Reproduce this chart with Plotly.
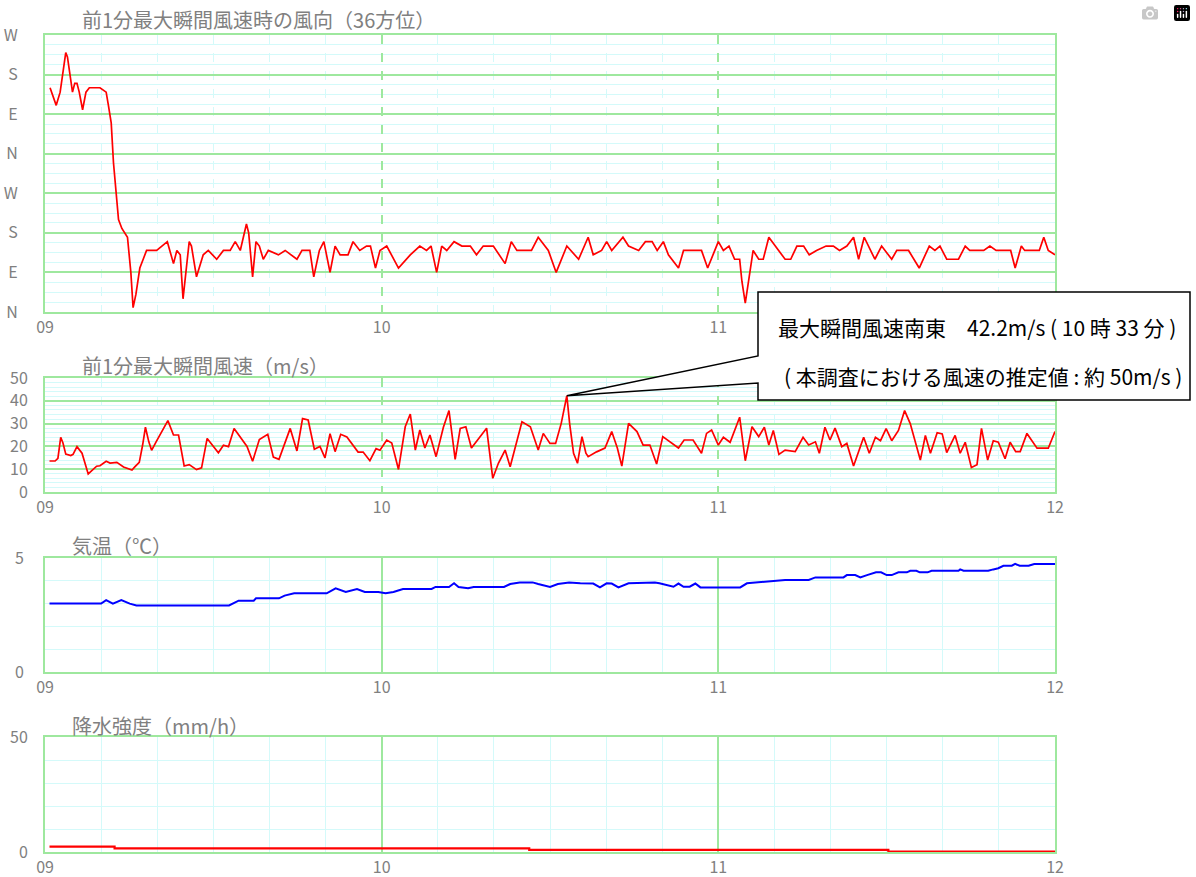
import plotly.graph_objects as go

W, H = 1196, 877

# ---------------- data (minutes after 09:00) ----------------
dir_min = [0.9, 2.0, 2.7, 3.3, 3.7, 4.0, 4.3, 4.9, 5.3, 5.7, 6.1, 6.7, 7.3, 7.9, 9.8, 10.9, 11.3, 11.8,
           12.2, 12.7, 13.1, 13.7, 14.7, 15.3, 15.7, 16.2, 16.9, 17.5, 18.1, 19.9, 21.8, 22.9, 23.5,
           24.1, 24.6, 25.7, 26.1, 27.0, 28.2, 29.1, 30.6, 31.8, 33.0, 33.9, 34.8, 35.9, 36.3, 37.0,
           37.6, 38.2, 38.9, 39.8, 41.6, 42.8, 44.9, 45.8, 47.2, 47.9, 48.9, 49.7, 50.8, 51.7, 52.6,
           54.0, 54.9, 56.1, 57.3, 58.0, 58.9, 59.7, 60.9, 63.0, 65.1, 66.8, 68.0, 68.8, 69.8, 70.7,
           71.6, 72.9, 74.3, 75.8, 76.9, 78.1, 79.9, 82.0, 83.1, 84.1, 86.7, 87.9, 89.7, 91.1, 93.0,
           95.1, 96.8, 97.7, 99.2, 100.1, 101.0, 103.0, 104.0, 105.8, 107.0, 108.2, 109.1, 110.2,
           111.1, 112.9, 113.8, 115.3, 117.0, 118.1, 120.0, 120.9, 121.9, 122.9, 123.8, 124.2, 124.8,
           125.5, 126.2, 127.2, 128.0, 129.0, 130.1, 131.9, 132.9, 134.0, 135.2, 136.2, 137.5, 139.2,
           140.5, 141.6, 142.9, 144.1, 145.0, 146.0, 147.9, 149.1, 150.9, 151.8, 153.9, 155.8, 157.6,
           158.6, 159.5, 160.7, 162.8, 164.0, 164.8, 165.8, 167.3, 168.4, 169.5, 172.1, 172.9, 174.0,
           174.6, 176.2, 177.2, 178.0, 178.8, 180.0]
dir_deg = [510, 470, 500, 550, 590, 580, 550, 500, 520, 520, 500, 460, 500, 510, 510, 500, 470, 430,
           340, 260, 210, 190, 170, 90, 10, 40, 100, 120, 140, 140, 160, 110, 140,
           130, 30, 160, 150, 80, 130, 140, 120, 140, 140, 160, 140, 200, 180, 80,
           160, 150, 120, 140, 130, 140, 120, 140, 140, 80, 140, 160, 90, 150, 130,
           130, 160, 140, 150, 150, 100, 140, 150, 100, 130, 150, 140, 150, 90, 150,
           140, 160, 150, 150, 130, 150, 150, 110, 160, 140, 140, 170, 140, 90, 150,
           120, 170, 130, 140, 160, 140, 170, 150, 140, 160, 160, 140, 160,
           130, 100, 140, 140, 140, 100, 160, 140, 150, 120, 120, 70, 20,
           80, 140, 120, 120, 170, 150, 120, 120, 150, 150, 130, 140, 150,
           150, 140, 150, 170, 120, 170, 120, 150, 120, 140, 140, 100, 150,
           140, 150, 120, 120, 150, 140, 140, 140, 150, 140, 140, 100, 150,
           140, 140, 140, 170, 140, 130]

spd_min = [0.8, 1.8, 2.3, 2.8, 3.2, 3.7, 4.6, 5.0, 5.7, 6.6, 7.7, 9.2, 9.8, 10.9, 11.6, 12.8, 14.0,
           15.5, 16.0, 16.8, 17.4, 17.9, 18.5, 19.0, 19.8, 21.9, 22.9, 23.8, 24.8, 25.7, 27.0, 27.9,
           28.9, 30.0, 30.9, 31.8, 32.7, 33.7, 36.0, 37.0, 38.2, 39.7, 40.7, 41.7, 43.7, 44.9, 45.9,
           46.9, 48.0, 49.0, 49.9, 50.8, 51.7, 52.7, 53.8, 55.8, 56.7, 57.9, 59.0, 59.7, 60.9, 61.8,
           63.0, 64.2, 65.1, 66.0, 66.8, 67.7, 68.6, 69.7, 71.0, 72.0, 73.1, 74.0, 75.0, 76.0, 78.7,
           79.8, 80.8, 82.0, 82.9, 85.0, 86.5, 87.9, 88.8, 90.0, 91.0, 92.0, 93.0, 93.5, 94.2, 94.9,
           95.7, 96.4, 96.8, 98.3, 99.8, 101.0, 102.0, 102.8, 104.0, 105.5, 106.6, 107.8, 109.0,
           110.1, 112.9, 113.9, 115.5, 117.0, 117.9, 118.8, 120.0, 120.9, 122.1, 123.8, 124.8, 126.0,
           127.2, 128.2, 129.0, 129.8, 130.8, 131.9, 133.7, 135.1, 136.1, 137.3, 138.0, 139.0, 139.9,
           140.8, 142.0, 142.9, 144.1, 145.9, 146.9, 148.0, 148.9, 149.9, 150.9, 152.1, 153.2, 154.2,
           156.0, 156.9, 157.8, 159.0, 159.9, 160.7, 162.2, 163.1, 164.0, 165.1, 166.1, 166.9, 168.0,
           169.0, 169.9, 171.1, 172.0, 173.0, 173.8, 175.0, 176.8, 178.8, 180.0]
spd_val = [13.6, 13.6, 14.8, 24.0, 21.5, 16.6, 16.0, 16.5, 19.9, 17.0, 7.9, 11.3, 11.5, 13.5, 12.7, 13.0, 11.0,
           9.6, 11.0, 13.0, 20.6, 28.4, 22.0, 18.3, 22.0, 31.3, 25.0, 25.0, 11.4, 12.0, 9.8, 10.6,
           23.5, 20.0, 17.2, 20.5, 19.9, 27.9, 20.0, 13.5, 23.0, 25.3, 15.3, 14.3, 27.9, 18.0, 32.2,
           31.6, 18.8, 20.0, 15.0, 25.6, 17.7, 25.3, 24.1, 17.5, 17.5, 13.7, 19.0, 18.3, 22.8, 21.5,
           9.9, 28.6, 34.2, 18.4, 27.2, 19.3, 25.0, 15.5, 28.4, 35.7, 14.3, 27.9, 28.6, 19.3, 28.0,
           6.0, 12.6, 18.4, 11.1, 30.8, 28.6, 18.4, 25.7, 21.3, 21.3, 30.1, 42.2, 30.0, 17.0, 12.6,
           24.3, 17.0, 15.5, 17.6, 19.3, 26.5, 19.3, 11.4, 30.1, 26.5, 20.6, 20.6, 12.3,
           24.3, 19.3, 22.8, 22.8, 17.0, 25.7, 27.2, 20.6, 24.0, 21.8, 32.8, 13.7, 28.6,
           24.3, 28.4, 20.6, 27.0, 16.5, 18.4, 17.7, 24.0, 20.6, 22.0, 17.0, 28.4, 22.8,
           28.0, 19.9, 21.3, 11.4, 24.0, 17.0, 24.0, 22.5, 27.8, 22.5, 27.0, 35.7, 30.0,
           14.0, 24.8, 17.0, 26.0, 25.5, 17.3, 24.8, 17.0, 21.8, 10.7, 12.0, 27.9, 14.0,
           22.5, 21.8, 14.6, 21.8, 17.7, 17.7, 25.7, 19.2, 19.2, 26.5]

tmp_min = [0.8, 10.0, 10.9, 12.1, 13.6, 15.1, 16.3, 32.8, 34.5, 37.2, 37.6, 41.7, 42.7, 44.4, 50.2,
           51.8, 53.6, 55.6, 57.0, 59.4, 60.7, 62.1, 63.8, 68.9, 69.6, 72.0, 72.9, 73.7, 75.4, 76.4,
           81.8, 82.9, 84.6, 86.9, 87.9, 90.0, 91.4, 93.4, 95.4, 97.7, 98.9,
           100.1, 101.0, 102.2, 104.0, 108.7, 109.5, 112.0, 112.9, 113.8, 114.9, 115.9, 116.8, 123.9,
           125.1, 127.8, 131.3, 131.9, 136.1, 137.3, 142.3, 142.9, 144.4, 145.3, 146.5, 148.1, 149.0,
           150.0, 150.9, 152.1, 153.6, 154.2, 155.3, 155.9, 157.3, 158.0, 162.8, 163.1, 163.7, 168.1,
           169.0, 169.9, 170.8, 172.3, 172.9, 173.7, 175.3, 176.3, 180.0]
tmp_val = [3.0, 3.0, 3.15, 3.0, 3.15, 3.0, 2.92, 2.92, 3.13, 3.13, 3.23, 3.23, 3.35, 3.45, 3.45,
           3.67, 3.51, 3.64, 3.51, 3.51, 3.45, 3.51, 3.64, 3.64, 3.73, 3.73, 3.89, 3.73, 3.67, 3.73,
           3.73, 3.86, 3.93, 3.93, 3.86, 3.73, 3.86, 3.93, 3.89, 3.88, 3.71,
           3.89, 3.88, 3.71, 3.89, 3.92, 3.89, 3.74, 3.88, 3.74, 3.74, 3.88, 3.71, 3.71,
           3.89, 3.95, 4.0, 4.04, 4.04, 4.15, 4.15, 4.25, 4.25, 4.15, 4.25, 4.37, 4.37,
           4.25, 4.25, 4.37, 4.37, 4.44, 4.44, 4.37, 4.37, 4.44, 4.44, 4.5, 4.44, 4.44,
           4.5, 4.55, 4.66, 4.66, 4.74, 4.66, 4.66, 4.74, 4.74]

rain_min = [0.8, 12.4, 86.3, 150.3, 180]
rain_val = [2.3, 1.6, 0.9, 0.2, 0.2]

hour_ticks = [0, 60, 120, 180]
hour_labels = ["09", "10", "11", "12"]
dir_ticks = [0, 90, 180, 270, 360, 450, 540, 630]
dir_labels = ["N", "E", "S", "W", "N", "E", "S", "W"]
spd_ticks = [0, 10, 20, 30, 40, 50]
tmp_ticks = [0, 5]
rain_ticks = [0, 50]

titles = ["前1分最大瞬間風速時の風向（36方位）", "前1分最大瞬間風速（m/s）", "気温（℃）", "降水強度（mm/h）"]
peak_min, peak_val = 93, 42.2
note1 = "最大瞬間風速南東　42.2m/s ( 10 時 33 分 )"
note2 = "( 本調査における風速の推定値 : 約 50m/s )"

# ---------------- styling ----------------
GREEN = "#9ee89e"
CYAN = "#d4fafa"
GRAY = "#808080"
FONT = "Noto Sans CJK JP"

X0, X1 = 45, 1055
panels = [(35, 312), (378, 492), (558, 672), (737, 852)]
title_pos = [(80, 20), (80, 365), (70, 545), (70, 725)]


def px(x):
    return x / W


def py(y):
    return 1 - y / H


fig = go.Figure()

fig.add_trace(go.Scatter(x=dir_min, y=dir_deg, mode="lines", line=dict(color="#ff0000", width=1.7),
                         xaxis="x", yaxis="y", showlegend=False))
fig.add_trace(go.Scatter(x=spd_min, y=spd_val, mode="lines", line=dict(color="#ff0000", width=1.7),
                         xaxis="x2", yaxis="y2", showlegend=False))
fig.add_trace(go.Scatter(x=tmp_min, y=tmp_val, mode="lines", line=dict(color="#0000ff", width=2),
                         xaxis="x3", yaxis="y3", showlegend=False))
fig.add_trace(go.Scatter(x=rain_min, y=rain_val, mode="lines", line=dict(color="#ff0000", width=2.2, shape="hv"),
                         xaxis="x4", yaxis="y4", showlegend=False))

ydefs = [
    dict(range=[0, 630], tickvals=dir_ticks, ticktext=dir_labels, minor_dtick=22.5, standoff=22),
    dict(range=[0, 50], tickvals=spd_ticks, ticktext=[str(v) for v in spd_ticks], minor_dtick=2, standoff=12),
    dict(range=[0, 5], tickvals=tmp_ticks, ticktext=[str(v) for v in tmp_ticks], minor_dtick=1, standoff=16),
    dict(range=[0, 50], tickvals=rain_ticks, ticktext=[str(v) for v in rain_ticks], minor_dtick=10, standoff=12),
]

layout = dict(width=W, height=H, margin=dict(l=0, r=0, t=0, b=0, autoexpand=False),
              paper_bgcolor="white", plot_bgcolor="white", showlegend=False)

for i, ((top, bot), yd) in enumerate(zip(panels, ydefs)):
    n = "" if i == 0 else str(i + 1)
    xlabels = list(hour_labels)
    if i == 0:
        xlabels[-1] = ""  # hidden behind the callout box in the original
    layout["xaxis" + n] = dict(
        domain=[px(X0), px(X1)], anchor="y" + n, range=[0, 180],
        tickmode="array", tickvals=hour_ticks, ticktext=xlabels,
        showgrid=True, gridcolor=GREEN, gridwidth=1.5, griddash="dash" if i < 2 else "solid",
        minor=dict(tickmode="linear", tick0=0, dtick=10, showgrid=True, gridcolor=CYAN, gridwidth=1),
        showline=True, mirror=True, linecolor=GREEN, linewidth=2, zeroline=False, automargin=False,
        ticks="", tickfont=dict(family=FONT, size=16, color=GRAY), fixedrange=True,
    )
    layout["yaxis" + n] = dict(
        domain=[py(bot), py(top)], anchor="x" + n, range=yd["range"],
        tickmode="array", tickvals=yd["tickvals"], ticktext=yd["ticktext"],
        showgrid=True, gridcolor=GREEN, gridwidth=1.5,
        minor=dict(tickmode="linear", tick0=0, dtick=yd["minor_dtick"], showgrid=True, gridcolor=CYAN, gridwidth=1),
        showline=True, mirror=True, linecolor=GREEN, linewidth=2, zeroline=False, automargin=False,
        ticks="", ticklabelstandoff=yd["standoff"],
        tickfont=dict(family=FONT, size=16, color=GRAY), fixedrange=True,
    )

annotations = []
for t, (tx, ty) in zip(titles, title_pos):
    annotations.append(dict(text=t, x=px(tx), y=py(ty), xref="paper", yref="paper",
                            xanchor="left", yanchor="middle", showarrow=False,
                            font=dict(family=FONT, size=20, color=GRAY)))

# callout box, tip placed on the peak through the panel-2 axis mapping
d2x = layout["xaxis2"]["domain"]
d2y = layout["yaxis2"]["domain"]
tip_x = d2x[0] + (peak_min - 0) / 180 * (d2x[1] - d2x[0])
tip_y = d2y[0] + (peak_val - 0) / 50 * (d2y[1] - d2y[0])
bx0, bx1, by0, by1 = px(758), px(1190), py(292), py(400)
n_top, n_bot = py(356), py(383)
path = (f"M {bx0},{by0} L {bx1},{by0} L {bx1},{by1} L {bx0},{by1} L {bx0},{n_bot} "
        f"L {tip_x},{tip_y} L {bx0},{n_top} Z")
layout["shapes"] = [dict(type="path", path=path, xref="paper", yref="paper",
                         fillcolor="white", line=dict(color="black", width=1.5), layer="above")]

annotations.append(dict(text=note1, x=px(977), y=py(327), xref="paper", yref="paper",
                        xanchor="center", yanchor="middle", showarrow=False,
                        font=dict(family=FONT, size=21, color="black")))
annotations.append(dict(text=note2, x=px(983), y=py(376), xref="paper", yref="paper",
                        xanchor="center", yanchor="middle", showarrow=False,
                        font=dict(family=FONT, size=21, color="black")))
layout["annotations"] = annotations

fig.update_layout(**layout)
fig.write_html("out.html", post_script="document.body.style.margin='0';")
